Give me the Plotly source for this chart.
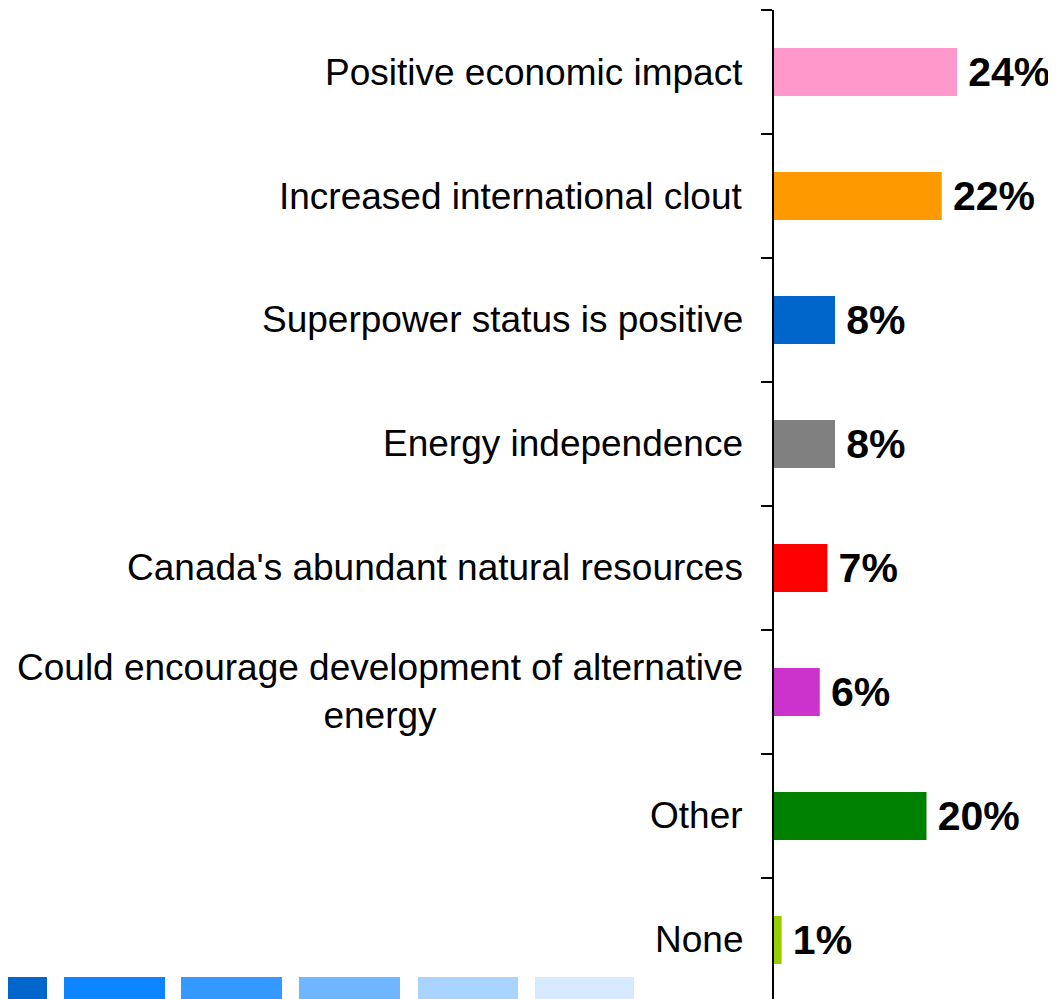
import plotly.graph_objects as go

categories = [
    "Positive economic impact",
    "Increased international clout",
    "Superpower status is positive",
    "Energy independence",
    "Canada's abundant natural resources",
    "Could encourage development of alternative<br>energy",
    "Other",
    "None",
]
values = [24, 22, 8, 8, 7, 6, 20, 1]
labels = ["24%", "22%", "8%", "8%", "7%", "6%", "20%", "1%"]
bar_colors = ["#FF99CC", "#FF9900", "#0066CC", "#808080", "#FF0000", "#CC33CC", "#008000", "#99CC00"]
swatch_colors = ["#0066CC", "#0D85FF", "#3399FF", "#70B5FF", "#A8D4FF", "#D6E9FF"]
swatch_px = [(0, 47), (64, 165), (181, 282), (299, 400), (418, 518), (535, 634)]

OFF = 8  # page body margin
W, H = 1056 - OFF, 999 - OFF
ML, MR, MT, MB = 774 - OFF, 0, 10 - OFF, 0
PW, PH = W - ML - MR, H - MT - MB

fig = go.Figure()
fig.add_trace(go.Bar(
    x=values,
    y=categories,
    orientation="h",
    marker=dict(color=bar_colors, line=dict(width=0)),
    text=["\u2009" + t for t in labels],
    textposition="outside",
    cliponaxis=False,
    textfont=dict(family="Liberation Sans, Arial, sans-serif", size=41, color="black", weight="bold"),
    hoverinfo="skip",
))

for c in categories:
    fig.add_annotation(
        x=0, xref="paper", y=c, yref="y",
        text=c, showarrow=False,
        xanchor="right", yanchor="middle", align="center",
        xshift=-29,
        font=dict(family="Liberation Sans, Arial, sans-serif", size=37, color="black"),
    )

shapes = []
for (x0, x1), col in zip(swatch_px, swatch_colors):
    shapes.append(dict(
        type="rect", xref="paper", yref="paper",
        x0=(x0 - OFF - ML) / PW, x1=(x1 - OFF - ML) / PW,
        y0=(H - (999 - OFF) - MB) / PH, y1=(H - (977 - OFF) - MB) / PH,
        fillcolor=col, line=dict(width=0), layer="above",
    ))

fig.update_layout(
    width=W, height=H,
    margin=dict(l=ML, r=MR, t=MT, b=MB, pad=0),
    plot_bgcolor="white", paper_bgcolor="white",
    showlegend=False,
    bargap=0.613,
    shapes=shapes,
    xaxis=dict(range=[0, PW / 7.625], visible=False, fixedrange=True),
    yaxis=dict(
        type="category",
        categoryorder="array", categoryarray=categories,
        range=[7.476, -0.5],
        showticklabels=False,
        ticks="outside", tickson="boundaries", ticklen=11, tickwidth=1.5, tickcolor="black",
        showline=True, linecolor="black", linewidth=1.5,
        showgrid=False, zeroline=False,
    ),
)

fig.write_html("out.html")
